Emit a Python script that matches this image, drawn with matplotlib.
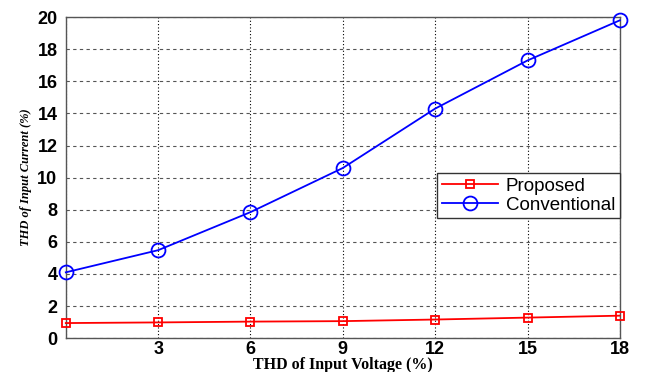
import numpy as np
import matplotlib.pyplot as plt

# THD of input voltage (%) vs THD of input current (%)
thd_voltage = [0, 3, 6, 9, 12, 15, 18]
proposed = [0.94, 0.98, 1.03, 1.06, 1.16, 1.28, 1.40]
conventional = [4.1, 5.48, 7.85, 10.6, 14.3, 17.3, 19.8]

fig = plt.figure(figsize=(6.45, 3.72), dpi=100)
ax = fig.add_axes([0.102, 0.091, 0.859, 0.863])

ax.plot(thd_voltage, proposed, color='red', marker='s', markersize=6,
        markerfacecolor='none', markeredgewidth=1.3, linewidth=1.3,
        label='Proposed', clip_on=False, zorder=3)
ax.plot(thd_voltage, conventional, color='blue', marker='o', markersize=10,
        markerfacecolor='none', markeredgewidth=1.3, linewidth=1.3,
        label='Conventional', clip_on=False, zorder=3)

ax.set_xlim(0, 18)
ax.set_ylim(0, 20)
ax.set_xticks([0, 3, 6, 9, 12, 15, 18])
ax.set_xticklabels(['', '3', '6', '9', '12', '15', '18'])
ax.set_yticks(np.arange(0, 21, 2))

# dashed horizontal grid, dotted vertical grid
ax.yaxis.grid(True, color='#555555', linestyle=(0, (3, 3)), linewidth=0.8)
ax.xaxis.grid(True, color='black', linestyle=(0, (1, 2)), linewidth=0.8)
ax.set_axisbelow(True)

for s in ax.spines.values():
    s.set_color('#555555')
    s.set_linewidth(1.0)
ax.tick_params(length=0)
ax.tick_params(axis='y', pad=6)
ax.tick_params(axis='x', pad=2)
for lab in ax.get_xticklabels() + ax.get_yticklabels():
    lab.set_fontfamily('Liberation Sans')
    lab.set_fontweight('bold')
    lab.set_fontsize(13)

ax.set_xlabel('THD of Input Voltage (%)', fontfamily='Liberation Serif',
              fontweight='bold', fontsize=11.5, labelpad=-1)
ax.set_ylabel('THD of Input Current (%)', fontfamily='Liberation Serif',
              fontstyle='italic', fontweight='bold', fontsize=9, labelpad=4)

leg = ax.legend(loc='upper right', bbox_to_anchor=(1.0, 0.515),
                prop={'family': 'Liberation Sans', 'size': 13.5},
                fancybox=False, framealpha=1, edgecolor='#333333',
                handlelength=3.0, borderpad=0.25, labelspacing=0.1,
                handletextpad=0.4, borderaxespad=0)
leg.get_frame().set_linewidth(1.0)

fig.savefig('out.png', dpi=100)
